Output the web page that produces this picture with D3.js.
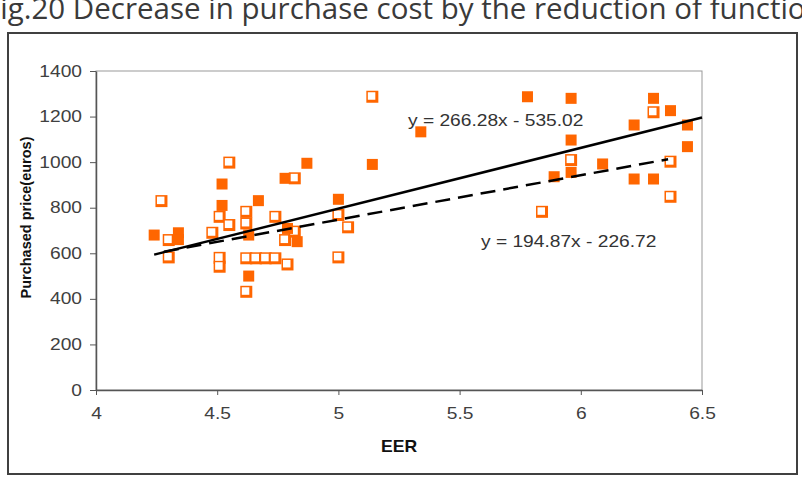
<!DOCTYPE html>
<html lang="en">
<head>
<meta charset="UTF-8">
<title>Fig.20 EER vs purchased price</title>
<script src="https://d3js.org/d3.v7.min.js"></script>
<style>
    body{ margin:0; background:#fff; }
    text{ font-family: 'Liberation Sans', Arial, sans-serif; fill:#333; }
    .title{ font-family: 'Open Sans', 'Noto Sans', sans-serif; font-size:29.5px; fill:#3a3a3a; }
    .axis path, .axis line{ stroke:#555; }
    .axis text{ font-size:16px; fill:#404040; }
    .label{ font-weight:bold; fill:#111; text-anchor:middle; }
    .eq{ font-size:16px; fill:#333; }
</style>
</head>
<body>
<svg width="802" height="479"></svg>
<script>
    // filled squares
    const filledEER   = [4.24, 4.34, 4.34, 4.52, 4.52, 4.63, 4.63, 4.67, 4.78, 4.79, 4.83, 4.87, 5.0, 5.14, 5.34, 5.78, 5.89, 5.96, 5.96, 5.96, 6.09, 6.22, 6.22, 6.30, 6.30, 6.37, 6.44, 6.44];
    const filledPrice = [680, 690, 660, 904, 810, 680, 500, 831, 929, 709, 651, 995, 837, 990, 1133, 1287, 936, 1280, 1097, 955, 992, 1163, 926, 926, 1280, 1226, 1163, 1068];
    // hollow squares
    const hollowEER   = [4.27, 4.30, 4.30, 4.48, 4.51, 4.51, 4.51, 4.55, 4.55, 4.62, 4.62, 4.62, 4.62, 4.66, 4.70, 4.74, 4.74, 4.78, 4.79, 4.82, 4.82, 5.0, 5.0, 5.04, 5.14, 5.84, 5.96, 6.30, 6.37, 6.37];
    const hollowPrice = [829, 658, 582, 690, 760, 580, 541, 998, 724, 782, 731, 578, 431, 578, 578, 578, 760, 658, 551, 929, 695, 768, 582, 714, 1287, 782, 1009, 1219, 1002, 848];
    // trend lines
    const trendSlope = [266.28, 194.87];
    const trendIntercept = [-535.02, -226.72];
    const trendRange = [[4.24, 6.5], [4.28, 6.36]];
    const trendText = ["y = 266.28x - 535.02", "y = 194.87x - 226.72"];
    // axes
    const xTicks = [4, 4.5, 5, 5.5, 6, 6.5];
    const yTicks = [0, 200, 400, 600, 800, 1000, 1200, 1400];

    const svg = d3.select("svg");
    const plotL = 96, plotR = 702, plotT = 71, plotB = 390;
    const orange = "#ff6600";

    const x = d3.scaleLinear().domain([4, 6.5]).range([plotL, plotR]);
    const y = d3.scaleLinear().domain([0, 1400]).range([plotB, plotT]);

    // title (cut off at the top of the picture, as in the source)
    svg.append("text").attr("class", "title")
        .attr("x", -15).attr("y", 19)
        .text("Fig.20 Decrease in purchase cost by the reduction of functions");

    // outer frame
    svg.append("rect")
        .attr("x", 8).attr("y", 33).attr("width", 789).attr("height", 441)
        .attr("fill", "none").attr("stroke", "#404040").attr("stroke-width", 2);

    // plot area border
    svg.append("rect")
        .attr("x", plotL).attr("y", plotT).attr("width", plotR-plotL).attr("height", plotB-plotT)
        .attr("fill", "none").attr("stroke", "#999").attr("stroke-width", 1);

    // axes
    const yG = svg.append("g").attr("class", "axis")
        .attr("transform", `translate(${plotL},0)`)
        .call(d3.axisLeft(y).tickValues(yTicks).tickFormat(d3.format("d")).tickSizeInner(6).tickSizeOuter(0).tickPadding(9));
    yG.selectAll("text").attr("x", 0).attr("transform", "translate(-14,0) scale(1.2,1)");

    const xG = svg.append("g").attr("class", "axis")
        .attr("transform", `translate(0,${plotB})`)
        .call(d3.axisBottom(x).tickValues(xTicks).tickFormat(d3.format("")).tickSizeInner(5).tickSizeOuter(0).tickPadding(13));
    xG.selectAll("text").attr("transform", "scale(1.2,1)");
    svg.selectAll(".axis .domain").attr("stroke-width", 1.5);

    // axis titles
    svg.append("text").attr("class", "label")
        .attr("font-size", 16)
        .attr("transform", `translate(${(plotL+plotR)/2},452) scale(1.1,1)`)
        .text("EER");
    svg.append("text").attr("class", "label")
        .attr("font-size", 14.5)
        .attr("transform", `translate(31,${(plotT+plotB)/2 - 13}) rotate(-90)`)
        .text("Purchased price(euros)");

    // hollow squares
    const hollow = d3.zip(hollowEER, hollowPrice);
    const hs = 12;
    svg.append("g").selectAll("rect")
        .data(hollow).join("rect")
        .attr("x", d => x(d[0]) - hs/2).attr("y", d => y(d[1]) - hs/2)
        .attr("width", hs).attr("height", hs).attr("fill", orange);
    svg.append("g").selectAll("rect")
        .data(hollow).join("rect")
        .attr("x", d => x(d[0]) - hs/2 + 1.5).attr("y", d => y(d[1]) - hs/2 + 1.5)
        .attr("width", hs - 4.5).attr("height", hs - 4.5).attr("fill", "#fff");

    // filled squares
    const fs = 11;
    svg.append("g").selectAll("rect")
        .data(d3.zip(filledEER, filledPrice)).join("rect")
        .attr("x", d => x(d[0]) - fs/2).attr("y", d => y(d[1]) - fs/2)
        .attr("width", fs).attr("height", fs).attr("fill", orange);

    // trend lines
    const line = d3.line().x(d => x(d[0])).y(d => y(d[1]));
    trendRange.forEach((r, i) => {
        const pts = r.map(v => [v, trendSlope[i]*v + trendIntercept[i]]);
        svg.append("path").attr("d", line(pts))
            .attr("fill", "none").attr("stroke", "#000").attr("stroke-width", 2.5)
            .attr("stroke-dasharray", i == 1 ? "15,8" : null);
    });

    // equations
    svg.append("text").attr("class", "eq")
        .attr("transform", "translate(408,126) scale(1.2,1)").text(trendText[0]);
    svg.append("text").attr("class", "eq")
        .attr("transform", "translate(481,247) scale(1.2,1)").text(trendText[1]);
</script>
</body>
</html>
